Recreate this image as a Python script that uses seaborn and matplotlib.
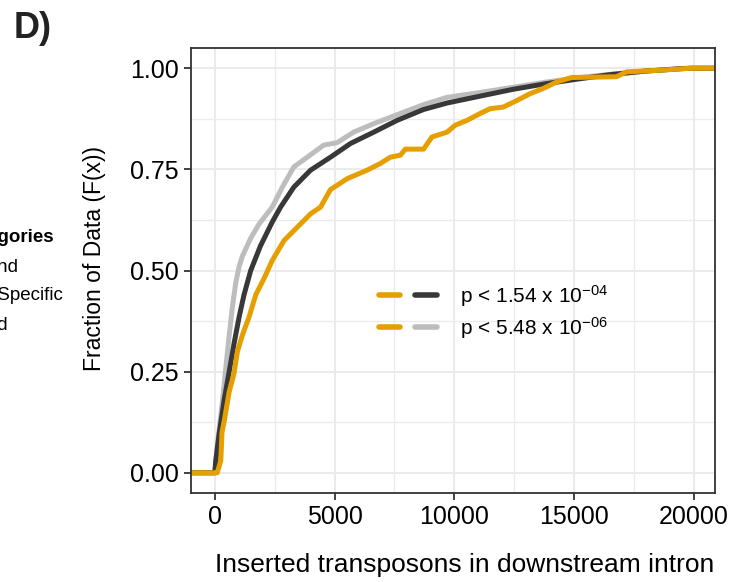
import numpy as np
import pandas as pd
import matplotlib
matplotlib.use("Agg")
import matplotlib.pyplot as plt
import seaborn as sns
from matplotlib.lines import Line2D
from matplotlib.legend_handler import HandlerTuple
from matplotlib.ticker import AutoMinorLocator, FixedLocator

# ---- data (x = inserted transposons, F = ECDF) ----
gray_x = [0, 110, 320, 460, 600, 735, 875, 1015, 1150, 1500, 1850, 2400, 2820, 3300,
          3860, 4550, 5110, 5800, 6640, 7610, 8720, 9700, 11080, 12470, 13860,
          15250, 16500, 18000, 19500, 19900]
gray_F = [0.0, 0.07, 0.178, 0.26, 0.34, 0.41, 0.47, 0.51, 0.535, 0.58, 0.615, 0.657,
          0.706, 0.756, 0.78, 0.81, 0.816, 0.842, 0.863, 0.885, 0.91, 0.928, 0.94,
          0.953, 0.966, 0.977, 0.985, 0.993, 0.999, 1.0]

dark_x = [0, 40, 180, 390, 600, 805, 1015, 1220, 1500, 1900, 2400, 2750, 3300, 4000,
          4830, 5670, 6640, 7610, 8720, 9700, 11080, 12470, 13860, 15250, 16500,
          18000, 19500, 19900]
dark_F = [0.0, 0.03, 0.096, 0.18, 0.25, 0.32, 0.385, 0.44, 0.50, 0.56, 0.62, 0.657,
          0.706, 0.748, 0.78, 0.814, 0.842, 0.871, 0.898, 0.914, 0.931, 0.948, 0.962,
          0.974, 0.984, 0.993, 0.999, 1.0]

orange_x = [0, 100, 250, 300, 400, 600, 800, 945, 1150, 1430, 1710, 2055, 2400, 2890,
            3445, 4000, 4420, 4830, 5530, 6360, 6900, 7330, 7750, 7960, 8720, 9070,
            9700, 10040, 10530, 11080, 11500, 12050, 12610, 13170, 13720, 14280,
            14900, 16780, 17200, 18580, 19900]
orange_F = [0.0, 0.0, 0.03, 0.10, 0.13, 0.20, 0.245, 0.30, 0.34, 0.385, 0.44, 0.48,
            0.525, 0.574, 0.607, 0.64, 0.657, 0.70, 0.727, 0.748, 0.764, 0.78, 0.785,
            0.80, 0.80, 0.83, 0.842, 0.859, 0.871, 0.888, 0.90, 0.904, 0.92, 0.937,
            0.95, 0.966, 0.977, 0.979, 0.991, 0.995, 1.0]

series_names = ["gray", "dark", "orange"]
series_colors = ["#BDBDBD", "#383838", "#E69F00"]
legend_labels = ["p < 1.54 x 10$\\mathregular{^{-04}}$",
                 "p < 5.48 x 10$\\mathregular{^{-06}}$"]
x_ticks = [0, 5000, 10000, 15000, 20000]
y_ticks = [0.00, 0.25, 0.50, 0.75, 1.00]

# ---- theme ----
sns.set_theme(style="white")
plt.rcParams["font.family"] = ["Liberation Sans", "DejaVu Sans"]
plt.rcParams["text.color"] = "black"
plt.rcParams["axes.labelcolor"] = "black"

fig = plt.figure(figsize=(7.4, 5.82), dpi=100)
ax = fig.add_axes([191 / 740, 89 / 582, 524 / 740, 445 / 582])

# ggplot-like limits (5% expansion) and ECDF padding to +-Inf
all_x = gray_x + dark_x + orange_x
rng = max(all_x) - min(all_x)
xlo, xhi = min(all_x) - 0.05 * rng, max(all_x) + 0.05 * rng

frames = []
for name, xs, fs in [("gray", gray_x, gray_F), ("dark", dark_x, dark_F),
                     ("orange", orange_x, orange_F)]:
    xx = [xlo] + list(xs) + [xhi]
    ff = [0.0] + list(fs) + [1.0]
    frames.append(pd.DataFrame({"x": xx, "F": ff, "series": name}))
df = pd.concat(frames, ignore_index=True)

sns.lineplot(data=df, x="x", y="F", hue="series", hue_order=series_names,
             palette=dict(zip(series_names, series_colors)), sort=False,
             estimator=None, linewidth=3.6, ax=ax, legend=False)

ax.set_xlim(xlo, xhi)
ax.set_ylim(-0.05, 1.05)
ax.xaxis.set_major_locator(FixedLocator(x_ticks))
ax.yaxis.set_major_locator(FixedLocator(y_ticks))
ax.xaxis.set_minor_locator(AutoMinorLocator(2))
ax.yaxis.set_minor_locator(AutoMinorLocator(2))
ax.set_xticklabels([str(v) for v in x_ticks])
ax.set_yticklabels([f"{v:.2f}" for v in y_ticks])

ax.grid(which="major", color="#EBEBEB", linewidth=1.4)
ax.grid(which="minor", color="#EBEBEB", linewidth=1.0)
ax.set_axisbelow(True)
for s in ax.spines.values():
    s.set_color("#333333")
    s.set_linewidth(1.3)
ax.tick_params(axis="both", which="major", length=5, width=1.3, color="#333333",
               labelsize=18, labelcolor="black", pad=4, direction="out",
               bottom=True, left=True)
ax.tick_params(axis="both", which="minor", length=0)

ax.set_xlabel("Inserted transposons in downstream intron", fontsize=19)
ax.set_ylabel("Fraction of Data (F(x))", fontsize=16.5)
ax.xaxis.set_label_coords(0.523, -0.135)
ax.yaxis.set_label_coords(-0.162, 0.528)

# legend with paired dashes
h1 = (Line2D([], [], color=series_colors[2], lw=4),
      Line2D([], [], color=series_colors[1], lw=4))
h2 = (Line2D([], [], color=series_colors[2], lw=4),
      Line2D([], [], color=series_colors[0], lw=4))
leg = ax.legend([h1, h2], legend_labels, handler_map={tuple: HandlerTuple(ndivide=None, pad=0.75)},
                loc="center left", bbox_to_anchor=(0.33, 0.407), frameon=False,
                fontsize=15, handlelength=2.8, handletextpad=1.1, labelspacing=0.3,
                borderpad=0.2)

# panel letter and cut-off legend of neighbouring panel
fig.text(14 / 740, 1 - 29 / 582, "D)", fontsize=26, fontweight="bold", va="center",
         ha="left", color="#222222")
fig.text(54 / 740, 1 - 237 / 582, "Categories", fontsize=13.5, fontweight="bold",
         ha="right", va="center")
fig.text(19 / 740, 1 - 268 / 582, "Background", fontsize=13.5, ha="right", va="center")
fig.text(63 / 740, 1 - 296 / 582, "Tissue Specific", fontsize=13.5, ha="right", va="center")
fig.text(8 / 740, 1 - 325 / 582, "Shared", fontsize=13.5, ha="right", va="center")

fig.savefig("out.png", dpi=100)
